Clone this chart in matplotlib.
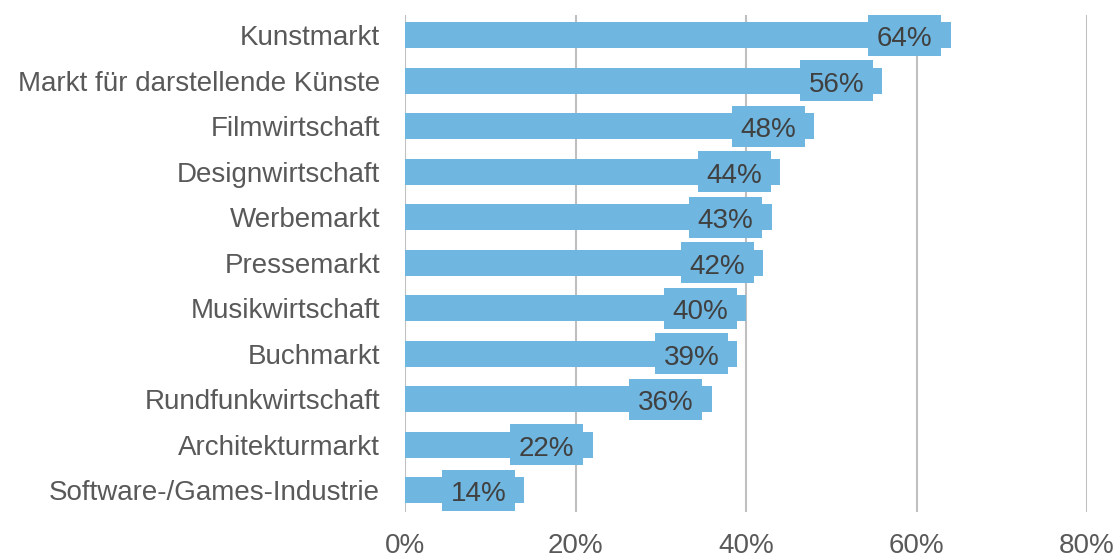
import matplotlib
matplotlib.use("Agg")
import matplotlib.pyplot as plt
from matplotlib.ticker import FuncFormatter

categories = [
    "Kunstmarkt",
    "Markt für darstellende Künste",
    "Filmwirtschaft",
    "Designwirtschaft",
    "Werbemarkt",
    "Pressemarkt",
    "Musikwirtschaft",
    "Buchmarkt",
    "Rundfunkwirtschaft",
    "Architekturmarkt",
    "Software-/Games-Industrie",
]
values = [64, 56, 48, 44, 43, 42, 40, 39, 36, 22, 14]
xticks = [0, 20, 40, 60, 80]

BAR = "#6FB6E0"
GRID = "#BFBFBF"
TICK = "#595959"
LABEL = "#404040"
FONT = "Liberation Sans"
FS = 20

W, H = 1120, 560
fig = plt.figure(figsize=(W / 100, H / 100), dpi=100)
ax_left, ax_right = 405, 1087
ax = fig.add_axes([ax_left / W, 1 - 512 / H, (ax_right - ax_left) / W, (512 - 15) / H])

XMAX = 80
px_per_unit = (ax_right - ax_left) / XMAX
box_w = 73 / px_per_unit      # label box width (data units)
box_inset = 9.5 / px_per_unit  # gap between box right edge and bar end

pos = list(range(len(categories)))
ax.barh(pos, values, height=0.57, color=BAR, zorder=2)

# label background boxes
box_left = [v - box_inset - box_w for v in values]
ax.barh(pos, [box_w] * len(values), left=box_left, height=0.9, color=BAR, zorder=2)
for i, v in enumerate(values):
    ax.text(v - box_inset - box_w / 2, i + 0.245, f"{v}%", ha="center", va="baseline",
            fontsize=FS, color=LABEL, family=FONT, zorder=3)

ax.set_xlim(0, XMAX)
ax.set_ylim(10.48, -0.44)
ax.set_xticks(xticks)
ax.xaxis.set_major_formatter(FuncFormatter(lambda v, p: f"{v:.0f}%"))
ax.set_yticks(pos)
ax.set_yticklabels(categories)
ax.grid(axis="x", color=GRID, linewidth=1.5, zorder=0)
ax.grid(axis="y", visible=False)
ax.set_axisbelow(True)
for s in ax.spines.values():
    s.set_visible(False)
ax.tick_params(axis="both", length=0, colors=TICK, labelsize=FS)
ax.tick_params(axis="y", pad=18)
ax.tick_params(axis="x", pad=15)
for t in ax.get_xticklabels() + ax.get_yticklabels():
    t.set_fontfamily(FONT)

fig.savefig("out.png", dpi=100)
